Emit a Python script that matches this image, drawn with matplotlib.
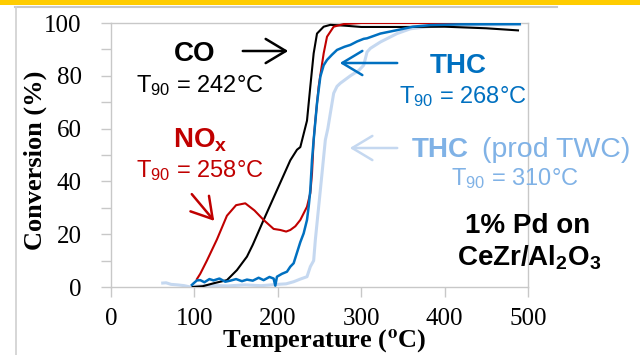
import matplotlib
matplotlib.use("Agg")
import matplotlib.pyplot as plt
from matplotlib.patches import Rectangle, FancyArrowPatch
from matplotlib.lines import Line2D

plt.rcParams['mathtext.fontset'] = 'custom'
plt.rcParams['mathtext.rm'] = 'Liberation Sans'
plt.rcParams['mathtext.bf'] = 'Liberation Sans:bold'
plt.rcParams['mathtext.it'] = 'Liberation Sans:italic'

# ---- data ----
co_T = [98, 110, 123, 139, 151, 163, 170, 183, 199, 215, 223, 227, 231, 235, 239, 243, 247, 255, 263, 280, 300, 350, 400, 450, 488]
co_y = [0, 0.3, 1.4, 2.6, 6.4, 11.5, 16, 25.4, 36.7, 48, 52, 53, 58, 63, 76, 88.5, 96, 98.6, 99.3, 99.0, 98.5, 98.5, 98.6, 98.0, 97.2]

nox_T = [103, 107, 115, 127, 139, 150, 161, 172, 183, 195, 203, 210, 215, 221, 227, 235, 239, 241, 243, 245, 249, 255, 259, 267, 279, 300, 400, 490]
nox_y = [3, 5, 10, 18, 27, 31, 31.7, 29, 25.4, 22, 21.6, 21, 21.6, 23, 25.4, 30.4, 35.6, 43, 55.7, 63, 76, 88.5, 94.8, 98.6, 99.6, 100, 100, 100]

thc_T = [97, 99, 103, 107, 112, 118, 123, 130, 137, 143, 150, 157, 163, 170, 177, 183, 190, 195, 197, 199, 205, 211, 215, 219, 223, 227, 231, 235, 237, 239, 241, 243, 247, 251, 255, 259, 265, 271, 280, 287, 295, 303, 307, 323, 343, 362, 383, 420, 490]
thc_y = [0.8, 1.4, 2.5, 2.6, 1.8, 3.0, 2.5, 3.2, 2.0, 2.4, 3.0, 2.2, 2.8, 2.4, 3.5, 2.6, 3.8, 3.2, 0.5, 3.9, 5.0, 5.8, 7.7, 9.0, 13, 17, 20.3, 25.4, 30.4, 36.7, 48, 55.7, 69.6, 79.7, 84, 86, 88, 89.8, 91, 91.7, 93, 94, 94.2, 96, 97.3, 98.6, 99.2, 99.5, 99.6]

twc_T = [62, 66, 72, 80, 88, 95, 100, 120, 140, 160, 180, 200, 210, 219, 227, 235, 239, 243, 245, 249, 253, 257, 260, 263, 267, 271, 275, 287, 297, 303, 307, 311, 323, 343, 359, 380, 400, 450, 490]
twc_y = [1.5, 1.6, 1.0, 0.8, 0.5, 0.0, 0.3, 0.6, 0.4, 0.8, 0.5, 1.0, 1.2, 2.0, 3.0, 3.9, 7.7, 10, 17.8, 30.4, 43, 55.7, 60, 65.8, 73.4, 76, 77.2, 80, 82, 84, 89, 90.4, 92.8, 96, 97.8, 98.6, 99, 99.3, 99.4]

x_ticks = [0, 100, 200, 300, 400, 500]
y_ticks = [0, 20, 40, 60, 80, 100]

# ---- figure ----
W, H = 640, 355
fig = plt.figure(figsize=(6.4, 3.55), dpi=100)

def fx(px):
    return px / W

def fy(py):
    return 1 - py / H

# decorations
fig.add_artist(Rectangle((0, fy(5)), 1, 5 / H, transform=fig.transFigure, color='#FFCC00', lw=0))
fig.add_artist(Line2D([fx(15), fx(557)], [fy(6.5), fy(6.5)], transform=fig.transFigure, color='#C8C8C8', lw=1.5))
fig.add_artist(Line2D([fx(16), fx(16)], [fy(7), 0], transform=fig.transFigure, color='#D0D0D0', lw=1.2))

ax = fig.add_axes([fx(111), fy(287), fx(528) - fx(111), fy(23) - fy(287)])
ax.set_xlim(0, 500)
ax.set_ylim(0, 100)

c_co = 'black'
c_nox = '#C00000'
c_thc = '#0070C0'
c_twc = '#C5D8F0'
c_twc_txt = '#80B2E6'

ax.plot(twc_T, twc_y, color=c_twc, lw=2.2, zorder=2)
ax.plot(co_T, co_y, color=c_co, lw=1.5, zorder=3)
ax.plot(nox_T, nox_y, color=c_nox, lw=1.5, zorder=4)
ax.plot(thc_T, thc_y, color=c_thc, lw=1.8, zorder=5)

for s in ax.spines.values():
    s.set_color('#C8C8C8')
    s.set_linewidth(1.0)

ax.set_xticks(x_ticks)
ax.set_yticks(y_ticks)
ax.set_yticks(range(10, 100, 20), minor=True)
ax.tick_params(axis='both', which='both', direction='out', length=7, width=1, color='#C8C8C8')
ax.tick_params(axis='y', pad=14)
ax.tick_params(axis='x', pad=8)
for lab in ax.get_xticklabels() + ax.get_yticklabels():
    lab.set_fontfamily('Liberation Serif')
    lab.set_fontsize(18)

fig.text(fx(35), fy(160), 'Conversion (%)', fontfamily='Liberation Serif', fontweight='bold',
         fontsize=19, rotation=90, ha='center', va='center')
fig.text(fx(324), fy(348), r'Temperature ($^\mathbf{o}$C)', fontfamily='Liberation Serif',
         fontweight='bold', fontsize=19, ha='center', va='baseline', math_fontfamily='stix')

sans = 'Liberation Sans'
# CO
fig.text(fx(195), fy(61), 'CO', fontfamily=sans, fontweight='bold', fontsize=20, ha='center', va='baseline', color=c_co)
fig.text(fx(200), fy(92.5), r'T$_{90}$ = 242°C', fontfamily=sans, fontsize=17, ha='center', va='baseline', color=c_co)
# NOx
fig.text(fx(200), fy(147), r'NO$_\mathbf{x}$', fontfamily=sans, fontweight='bold', fontsize=20, ha='center', va='baseline', color=c_nox)
fig.text(fx(200), fy(177), r'T$_{90}$ = 258°C', fontfamily=sans, fontsize=17, ha='center', va='baseline', color=c_nox)
# THC
fig.text(fx(458), fy(73), 'THC', fontfamily=sans, fontweight='bold', fontsize=20, ha='center', va='baseline', color=c_thc)
fig.text(fx(463), fy(103), r'T$_{90}$ = 268°C', fontfamily=sans, fontsize=17, ha='center', va='baseline', color=c_thc)
# THC prod TWC
fig.text(fx(412), fy(157), 'THC', fontfamily=sans, fontweight='bold', fontsize=20, ha='left', va='baseline', color=c_twc_txt)
fig.text(fx(482), fy(157), '(prod TWC)', fontfamily=sans, fontsize=20.5, ha='left', va='baseline', color=c_twc_txt)
fig.text(fx(515), fy(185), r'T$_{90}$ = 310°C', fontfamily=sans, fontsize=17, ha='center', va='baseline', color=c_twc_txt)
# catalyst
fig.text(fx(528), fy(233), '1% Pd on', fontfamily=sans, fontweight='bold', fontsize=20, ha='center', va='baseline', color='black')
fig.text(fx(529), fy(266), r'CeZr/Al$_\mathbf{2}$O$_\mathbf{3}$', fontfamily=sans, fontweight='bold', fontsize=20, ha='center', va='baseline', color='black')

# arrows
def arrow(x0, y0, x1, y1, color, lw=1.8):
    fig.add_artist(FancyArrowPatch((fx(x0), fy(y0)), (fx(x1), fy(y1)),
                   transform=fig.transFigure, arrowstyle='->,head_length=10,head_width=6',
                   color=color, lw=lw, mutation_scale=1.45))

arrow(240, 51, 291, 51, c_co)
arrow(190, 192, 216, 223, c_nox)
arrow(400, 63, 337, 63, c_thc)
arrow(400, 148, 347, 148, c_twc)

fig.savefig('out.png', dpi=100)
